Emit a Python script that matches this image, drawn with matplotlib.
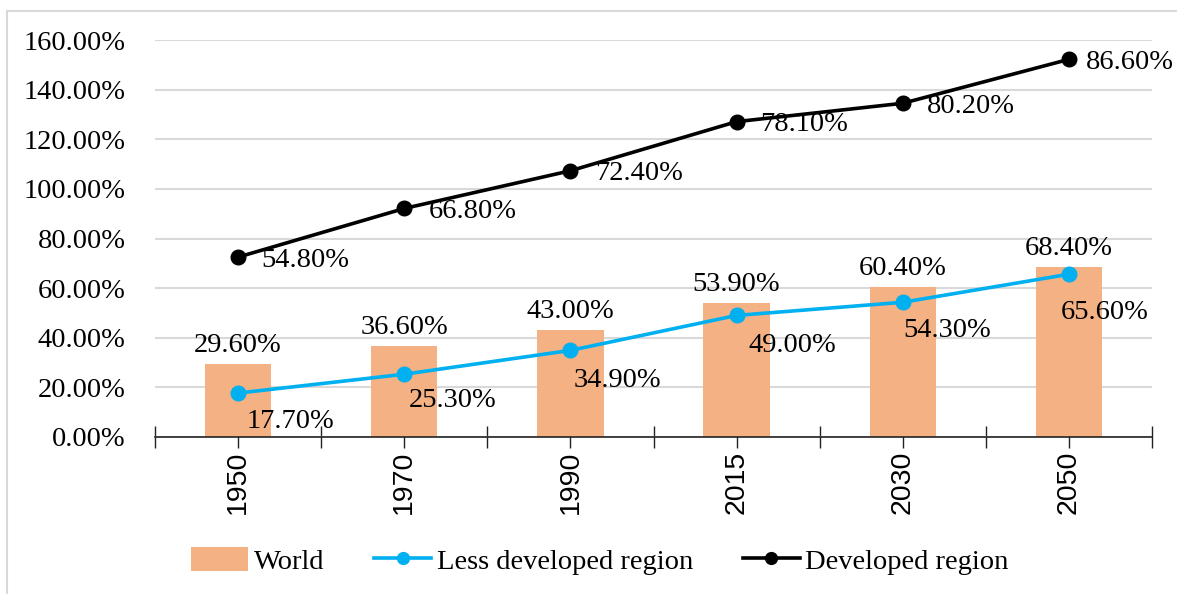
import matplotlib
matplotlib.use("Agg")
import matplotlib.pyplot as plt
from matplotlib.lines import Line2D
from matplotlib.patches import Patch
import numpy as np

years = ["1950", "1970", "1990", "2015", "2030", "2050"]
world = [29.6, 36.6, 43.0, 53.9, 60.4, 68.4]
less_developed = [17.7, 25.3, 34.9, 49.0, 54.3, 65.6]
developed = [54.8, 66.8, 72.4, 78.1, 80.2, 86.6]

ORANGE = "#F4B183"
BLUE = "#00B0F0"
BLACK = "#000000"
GRID = "#D9D9D9"
SERIF = "Liberation Serif"
SANS = "Liberation Sans"
FS = 20.5

fig = plt.figure(figsize=(11.77, 5.94), dpi=100)
ax = fig.add_axes([155 / 1177, 1 - 437 / 594, (1152 - 155) / 1177, (437 - 40) / 594])

x = np.arange(len(years))
less = np.array(less_developed)
dev_stacked = less + np.array(developed)  # stacked line series

ax.bar(x, world, width=0.4, color=ORANGE, zorder=2)
ax.plot(x, less, color=BLUE, lw=2.6, marker="o", ms=10.5, zorder=3)
ax.plot(x, dev_stacked, color=BLACK, lw=2.6, marker="o", ms=10.5, zorder=3)

ax.set_xlim(-0.5, len(years) - 0.5)
ax.set_ylim(0, 160)
ax.set_yticks(np.arange(0, 161, 20))
ax.set_yticklabels([f"{v:.2f}%" for v in np.arange(0, 161, 20)], fontfamily=SERIF, fontsize=FS)
ax.tick_params(axis="y", length=0, pad=21)
ax.yaxis.grid(True, color=GRID, lw=1.5, zorder=0)
ax.set_axisbelow(True)

ax.set_xticks(x)
ax.set_xticklabels(years, rotation=90, fontfamily=SANS, fontsize=20.5)
ax.set_xticks(np.arange(-0.5, len(years)), minor=True)
ax.tick_params(axis="x", which="both", direction="inout", length=16, width=1, color="#222222", pad=2)

for side in ("top", "right", "left"):
    ax.spines[side].set_visible(False)
ax.spines["bottom"].set_color("#222222")
ax.spines["bottom"].set_linewidth(1.2)
ax.spines["bottom"].set_zorder(4)

# value labels
for i, v in enumerate(world):
    ax.annotate(f"{v:.2f}%", (x[i], v), xytext=(0, 6), textcoords="offset pixels",
                ha="center", va="bottom", fontfamily=SERIF, fontsize=FS, zorder=5)

less_offsets = [(8, -16), (4, -14), (3, -18), (12, -18), (1, -16), (-8, -26)]
for i, v in enumerate(less_developed):
    dx, dy = less_offsets[i]
    ax.annotate(f"{v:.2f}%", (x[i], less[i]), xytext=(dx, dy), textcoords="offset pixels",
                ha="left", va="top", fontfamily=SERIF, fontsize=FS, zorder=5)

dev_offsets = [23, 24, 25, 24, 24, 17]
for i, v in enumerate(developed):
    ax.annotate(f"{v:.2f}%", (x[i], dev_stacked[i]), xytext=(dev_offsets[i], -3), textcoords="offset pixels",
                ha="left", va="center", fontfamily=SERIF, fontsize=FS, zorder=5)

handles = [
    Patch(facecolor=ORANGE, edgecolor="none"),
    Line2D([], [], color=BLUE, lw=2.6, marker="o", ms=8.5),
    Line2D([], [], color=BLACK, lw=2.6, marker="o", ms=8.5),
]
fig.legend(handles, ["World", "Less developed region", "Developed region"],
           loc="center", bbox_to_anchor=(600 / 1177, 1 - 561 / 594), ncol=3, frameon=False,
           prop={"family": SERIF, "size": FS}, handlelength=2.0, handleheight=0.9,
           handletextpad=0.2, columnspacing=1.75)

# chart frame edges
fig.add_artist(Line2D([7 / 1177, 1.0], [1 - 11 / 594] * 2, color=GRID, lw=1.5, transform=fig.transFigure))
fig.add_artist(Line2D([7 / 1177] * 2, [0, 1 - 11 / 594], color=GRID, lw=1.5, transform=fig.transFigure))

fig.savefig("out.png", dpi=100, facecolor="white")
